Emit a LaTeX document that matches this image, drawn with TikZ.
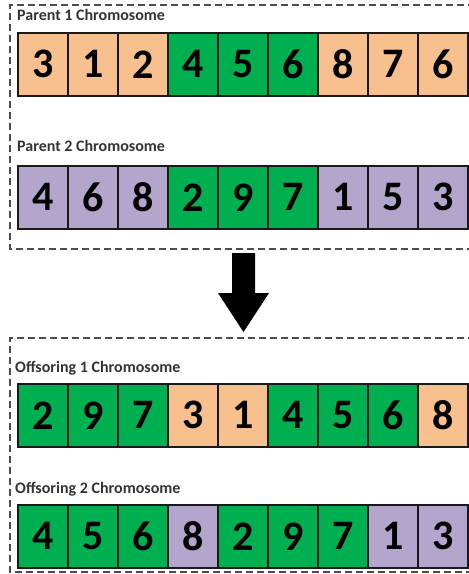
\documentclass[tikz,border=0pt]{standalone}
\usepackage{fontspec}
\setmainfont{Carlito}
\usetikzlibrary{positioning}
\definecolor{genepeach}{HTML}{F9C08F}
\definecolor{genegreen}{HTML}{00B050}
\definecolor{genepurple}{HTML}{B3A5CC}
\tikzset{
  gene/.style={
    draw=black!90,
    line width=1.5pt,
    minimum width=50pt,
    minimum height=63pt,
    inner sep=0pt,
    anchor=north west,
    font=\bfseries\fontsize{42}{42}\selectfont
  },
  chrom label/.style={
    anchor=base west,
    inner sep=0pt,
    text=black!80,
    font=\bfseries\fontsize{16}{16}\selectfont
  },
  group box/.style={
    draw=black!70,
    line width=1.7pt,
    dash pattern=on 7pt off 4pt
  }
}

\begin{document}
\begin{tikzpicture}[x=1pt, y=-1pt]
    \useasboundingbox (0,0) rectangle (469,574);

    % parents box
    \draw[group box] (475,5) -- (10,5) -- (10,249) -- (475,249);
    \node[chrom label] (pa label) at (17,20) {Parent 1 Chromosome};
    \foreach \v/\c [count=\i] in {3/genepeach, 1/genepeach, 2/genepeach, 4/genegreen, 5/genegreen, 6/genegreen, 8/genepeach, 7/genepeach, 6/genepeach}
      \node[gene, fill=\c] (pa\i) at ({17+50*(\i-1)},32) {\v};

    \node[chrom label] (pb label) at (17,151) {Parent 2 Chromosome};
    \foreach \v/\c [count=\i] in {4/genepurple, 6/genepurple, 8/genepurple, 2/genegreen, 9/genegreen, 7/genegreen, 1/genepurple, 5/genepurple, 3/genepurple}
      \node[gene, fill=\c] (pb\i) at ({17+50*(\i-1)},165) {\v};

    % crossover arrow
    \fill[black] (232,253) -- (255,253) -- (255,293) -- (269,293)
      -- (243.5,332) -- (218,293) -- (232,293) -- cycle;

    % offspring box
    \draw[group box] (475,338) -- (10,338) -- (10,572) -- (475,572);
    \node[chrom label] (oa label) at (15,372) {Offsoring 1 Chromosome};
    \foreach \v/\c [count=\i] in {2/genegreen, 9/genegreen, 7/genegreen, 3/genepeach, 1/genepeach, 4/genegreen, 5/genegreen, 6/genegreen, 8/genepeach}
      \node[gene, fill=\c] (oa\i) at ({17+50*(\i-1)},383) {\v};

    \node[chrom label] (ob label) at (15,493) {Offsoring 2 Chromosome};
    \foreach \v/\c [count=\i] in {4/genegreen, 5/genegreen, 6/genegreen, 8/genepurple, 2/genegreen, 9/genegreen, 7/genegreen, 1/genepurple, 3/genepurple}
      \node[gene, fill=\c] (ob\i) at ({17+50*(\i-1)},504) {\v};
\end{tikzpicture}
\end{document}
